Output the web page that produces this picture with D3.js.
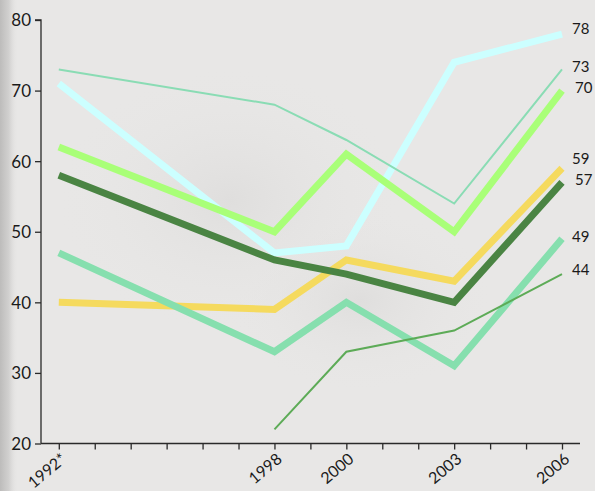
<!DOCTYPE html>
<html><head><meta charset="utf-8">
<script src="https://cdn.jsdelivr.net/npm/d3@7"></script>
<style>
html,body{margin:0;padding:0;background:#e7e6e5;}
svg{display:block;}
text{font-family:Lato,"Open Sans",sans-serif;fill:#1a1a1a;}
</style></head><body>
<svg id="c" width="595" height="491"></svg>
<script>
const years = [1992, 1998, 2000, 2003, 2006];
const yearLabels = ["1992*", "1998", "2000", "2003", "2006"];
const yTicks = [20, 30, 40, 50, 60, 70, 80];

const seriesCyan      = [71, 47, 48, 74, 78];
const seriesMintThin  = [73, 68, 63, 54, 73];
const seriesLightGreen= [62, 50, 61, 50, 70];
const seriesYellow    = [40, 39, 46, 43, 59];
const seriesDarkGreen = [58, 46, 44, 40, 57];
const seriesMintThick = [47, 33, 40, 31, 49];
const seriesGreenThin = [null, 22, 33, 36, 44];

const W = 595, H = 491;
const svg = d3.select("#c");

// background
const defs = svg.append("defs");
const g1 = defs.append("linearGradient").attr("id","edge").attr("x1",0).attr("x2",1).attr("y1",0).attr("y2",0);
g1.append("stop").attr("offset","0").attr("stop-color","#bdbcbb");
g1.append("stop").attr("offset","0.5").attr("stop-color","#d2d1d0");
g1.append("stop").attr("offset","1").attr("stop-color","#e7e6e5").attr("stop-opacity",0);
const g2 = defs.append("radialGradient").attr("id","blob").attr("cx","0.5").attr("cy","0.5").attr("r","0.5");
g2.append("stop").attr("offset","0").attr("stop-color","#dfdedd");
g2.append("stop").attr("offset","1").attr("stop-color","#e7e6e5").attr("stop-opacity",0);
svg.append("rect").attr("width",W).attr("height",H).attr("fill","#e8e7e6");
svg.append("ellipse").attr("cx",230).attr("cy",200).attr("rx",170).attr("ry",130).attr("fill","url(#blob)");
svg.append("ellipse").attr("cx",360).attr("cy",300).attr("rx",130).attr("ry",90).attr("fill","url(#blob)");
svg.append("rect").attr("x",0).attr("y",0).attr("width",18).attr("height",H).attr("fill","url(#edge)");

const x = d3.scaleLinear().domain([1992, 2006]).range([58.8, 562]);
const y = d3.scaleLinear().domain([20, 80]).range([443.5, 20]);
const axisColor = "#2a2a2a";

// y axis
const yAxis = d3.axisLeft(y).tickValues(yTicks).tickSize(6).tickPadding(4);
const ya = svg.append("g").attr("transform","translate(41,0)").call(yAxis);
ya.select(".domain").attr("d","M-6,20H0V443.5").attr("stroke",axisColor).attr("stroke-width",1.3);
ya.selectAll(".tick line").attr("stroke",axisColor).attr("stroke-width",1.3);
ya.selectAll(".tick text").style("font-size","17px").style("font-family","Lato,sans-serif").attr("fill","#1a1a1a").attr("dy","0.35em");

// x axis
const xa = svg.append("g").attr("transform","translate(0,443.5)");
xa.append("line").attr("x1",41).attr("x2",580).attr("y1",0).attr("y2",0).attr("stroke",axisColor).attr("stroke-width",1.3);
const xAxis = d3.axisBottom(x).tickValues(d3.range(1992, 2007)).tickSize(6).tickFormat(() => "");
const xg = xa.append("g").call(xAxis);
xg.select(".domain").remove();
xg.selectAll(".tick line").attr("stroke",axisColor).attr("stroke-width",1.3);
xa.selectAll("text.yl").data(years).join("text").attr("class","yl")
  .attr("transform", d => `translate(${x(d)+5},${13}) rotate(-40)`)
  .attr("text-anchor","end").attr("dy","0.35em")
  .style("font-size","16px")
  .text((d,i) => yearLabels[i]);

// lines
const line = d3.line().defined(d => d.v != null).x(d => x(d.year)).y(d => y(d.v));
const series = [
  {vals: seriesCyan, color:"#ccffff", w:7},
  {vals: seriesMintThin, color:"#8adcb4", w:2},
  {vals: seriesLightGreen, color:"#a9ff78", w:7},
  {vals: seriesYellow, color:"#f5da5e", w:7},
  {vals: seriesDarkGreen, color:"#4a8443", w:7},
  {vals: seriesMintThick, color:"#86dfae", w:7},
  {vals: seriesGreenThin, color:"#5dab57", w:2},
];
series.forEach(s => {
  const pts = years.map((yr,i) => ({year: yr, v: s.vals[i]}));
  svg.append("path").datum(pts).attr("d", line)
    .attr("fill","none").attr("stroke", s.color).attr("stroke-width", s.w)
    .attr("stroke-linejoin","miter").attr("stroke-linecap","butt");
});

// end labels
const nudge = {78:[0,-5], 73:[0,-3], 70:[3,-3], 59:[0,-9], 57:[3,-3], 49:[0,-2], 44:[0,-4]};
series.forEach(s => {
  const v = s.vals[s.vals.length-1];
  const n = nudge[v] || [0,0];
  svg.append("text").attr("x", 572 + n[0]).attr("y", y(v) + n[1]).attr("dy","0.35em")
    .style("font-size","15px").text(v);
});
</script>
</body></html>
